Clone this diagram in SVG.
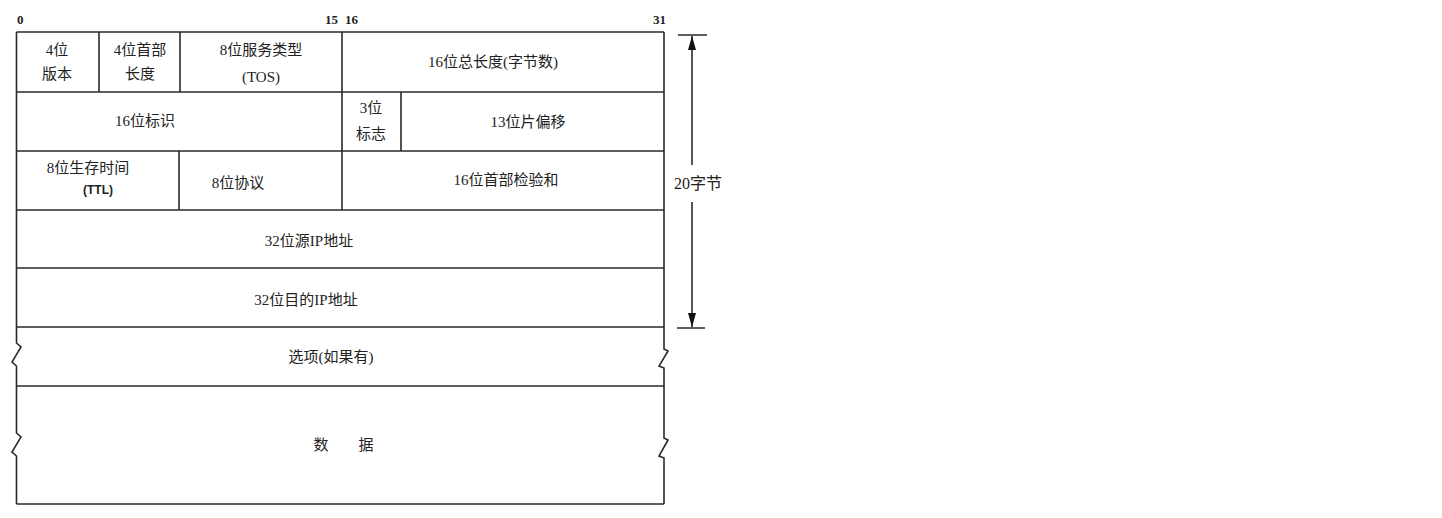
<svg xmlns="http://www.w3.org/2000/svg" width="1442" height="518" viewBox="0 0 1442 518">
<style>
.ln{stroke:#2a2a2a;stroke-width:1.6;fill:none}
.t{font-family:"Liberation Serif","Noto Sans CJK SC",serif;font-size:15px;fill:#222;text-anchor:middle}
.b{font-family:"Liberation Serif",serif;font-size:13px;font-weight:bold;fill:#222}
.ttl{font-family:"Liberation Sans",sans-serif;font-size:12px;font-weight:bold;fill:#222;text-anchor:middle}
</style>
<defs>
<marker id="ah" viewBox="0 0 10 10" refX="10" refY="5" markerWidth="14" markerHeight="8" markerUnits="userSpaceOnUse" orient="auto-start-reverse" preserveAspectRatio="none">
<path d="M0,0 L10,5 L0,10 z" fill="#111"/>
</marker>
</defs>
<rect width="1442" height="518" fill="#fff"/>
<g id="bits">
<text class="b" x="17" y="24">0</text>
<text class="b" x="338" y="24" text-anchor="end">15</text>
<text class="b" x="345" y="24">16</text>
<text class="b" x="666" y="24" text-anchor="end">31</text>
</g>
<g id="frame">
<path class="ln" d="M16.5 32 V343 L21 347 L12 362 L16.5 366 V433 L21 437 L12 452 L16.5 456 V504"/>
<path class="ln" d="M664 32 V349 L668 351 L659 366 L664 368 V438 L668 440 L659 456 L664 458 V504"/>
<path class="ln" d="M16.5 32 H664 M16.5 92 H664 M16.5 151 H664 M16.5 210 H664 M16.5 268 H664 M16.5 327 H664 M16.5 386 H664 M16.5 504 H664"/>
<path class="ln" d="M99 32 V92 M180 32 V92 M342 32 V210 M401 92 V151 M179 151 V210"/>
</g>
<g id="version"><text class="t" x="57" y="55">4位</text><text class="t" x="57" y="79">版本</text></g>
<g id="ihl"><text class="t" x="140" y="55">4位首部</text><text class="t" x="140" y="79">长度</text></g>
<g id="tos"><text class="t" x="261" y="55">8位服务类型</text><text class="t" x="261" y="82">(TOS)</text></g>
<g id="totlen"><text class="t" x="493" y="67">16位总长度(字节数)</text></g>
<g id="ident"><text class="t" x="145" y="126">16位标识</text></g>
<g id="flags"><text class="t" x="371" y="113">3位</text><text class="t" x="371" y="139">标志</text></g>
<g id="fragoff"><text class="t" x="528" y="127">13位片偏移</text></g>
<g id="ttl"><text class="t" x="88" y="173">8位生存时间</text><text class="ttl" x="98" y="194">(TTL)</text></g>
<g id="proto"><text class="t" x="238" y="188">8位协议</text></g>
<g id="cksum"><text class="t" x="506" y="185">16位首部检验和</text></g>
<g id="srcip"><text class="t" x="309" y="246">32位源IP地址</text></g>
<g id="dstip"><text class="t" x="306" y="305">32位目的IP地址</text></g>
<g id="options"><text class="t" x="331" y="362">选项(如果有)</text></g>
<g id="data"><text class="t" x="321" y="450">数</text><text class="t" x="366" y="450">据</text></g>
<g id="connectors">
<path class="ln" d="M678 35 H707 M677 328 H705"/>
<path class="ln" d="M692 165 V36" marker-end="url(#ah)"/>
<path class="ln" d="M692 202 V327" marker-end="url(#ah)"/>
<text class="t" x="698" y="189" style="font-size:16px">20字节</text>
</g>
</svg>
